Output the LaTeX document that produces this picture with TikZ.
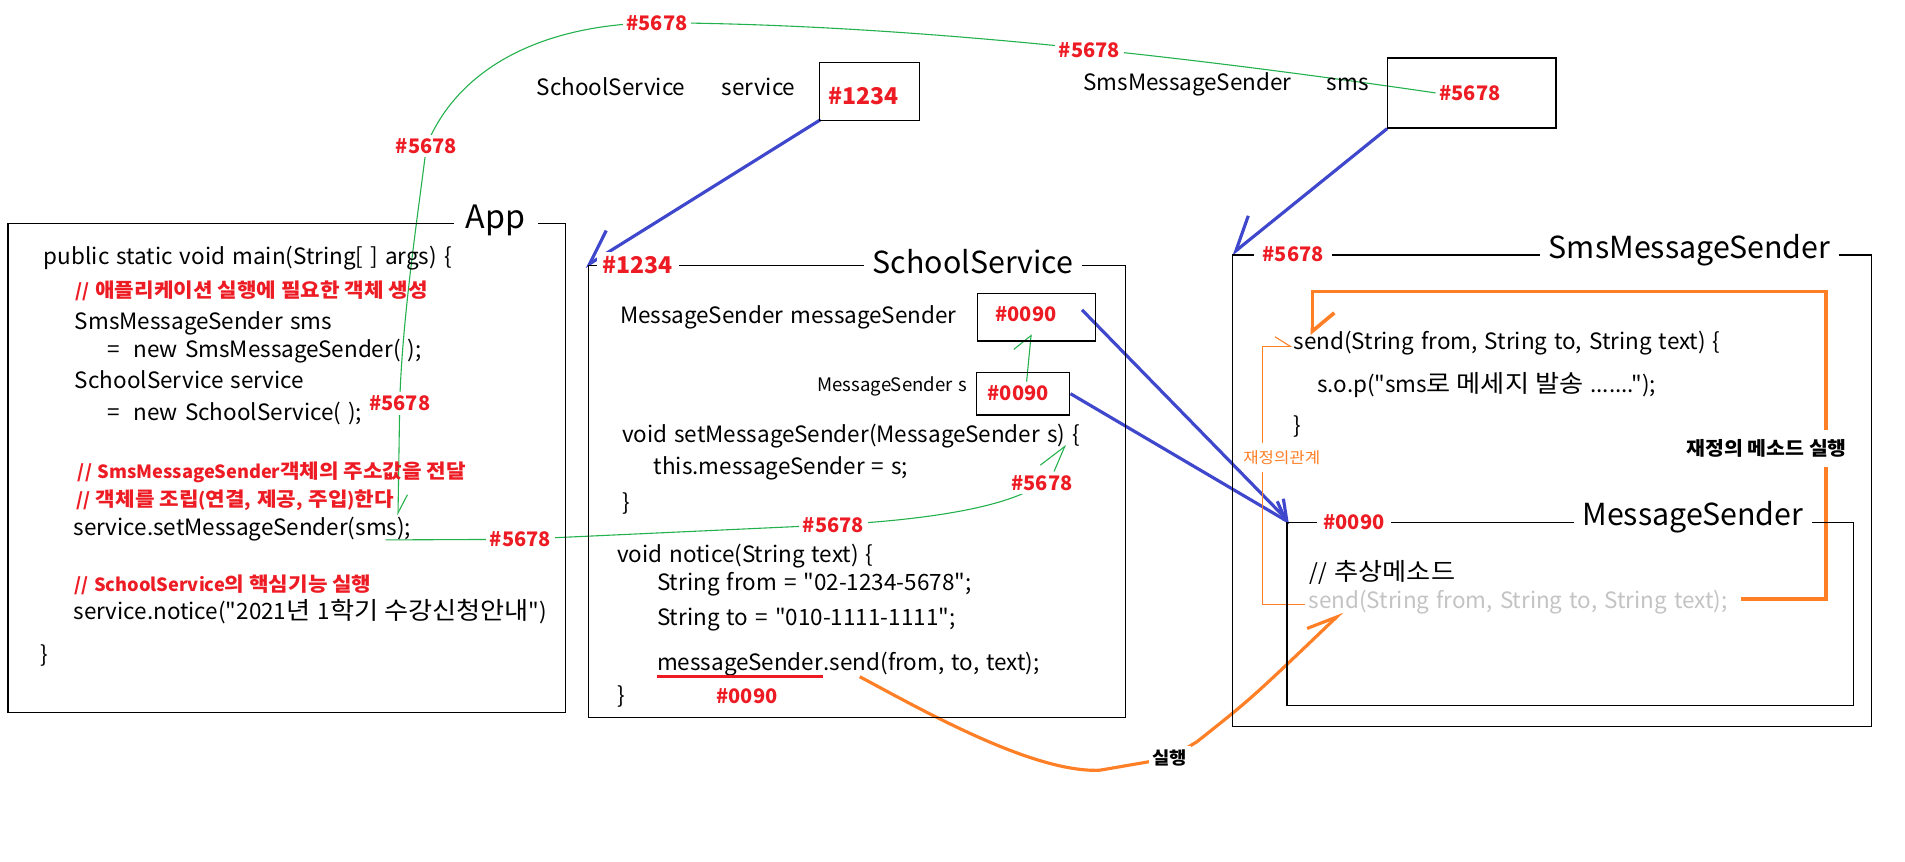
\documentclass[tikz,border=0pt]{standalone}
\usepackage{fontspec}
\setmainfont{Noto Sans CJK KR}[Ligatures=TeXOff,WordSpace=1.4]
\newfontfamily\krfont{Noto Sans CJK KR}[Scale=1.08,FakeStretch=1.08,Ligatures=TeXOff]
\newcommand{\kr}[1]{{\krfont #1}}
\usepackage{tikz}
\usetikzlibrary{arrows.meta,backgrounds}
\definecolor{addrred}{HTML}{ED1C24}
\definecolor{refblue}{HTML}{3F48CC}
\definecolor{linkgreen}{HTML}{22B14C}
\definecolor{callorange}{HTML}{FF7F27}
\definecolor{ghost}{HTML}{C3C3C3}

\begin{document}
\begin{tikzpicture}[x=1pt,y=-1pt,
  code/.style={anchor=west,inner sep=0pt,font=\fontsize{18.5}{22}\selectfont,text height=14pt,text depth=2pt},
  note/.style={anchor=west,inner sep=0pt,text=addrred,font=\fontsize{15}{18}\selectfont\bfseries,text height=11.5pt,text depth=1.5pt},
  addr/.style={text=addrred,fill=white,inner sep=3pt,font=\fontsize{16.5}{20}\selectfont\bfseries},
  bigaddr/.style={addr,font=\fontsize{19}{22}\selectfont\bfseries},
  title/.style={fill=white,inner xsep=7pt,inner ysep=1pt,font=\fontsize{25}{30}\selectfont},
  objbox/.style={draw,line width=1.1pt,anchor=north west,inner sep=0pt},
  ref/.style={refblue,line width=2.6pt},
  link/.style={linkgreen,line width=0.9pt},
  call/.style={callorange,line width=2.6pt}]

  \useasboundingbox (0,0) rectangle (1568,709);

  % objects
  \node[objbox,minimum width=459pt,minimum height=402.5pt] (app) at (6,183.5) {};
  \node[objbox,minimum width=442pt,minimum height=372pt] (ss) at (484,218) {};
  \node[objbox,minimum width=526.3pt,minimum height=388.2pt] (sms) at (1013.7,209.3) {};
  \node[objbox,minimum width=466pt,minimum height=150.8pt] (ms) at (1058.8,429.4) {};
  \node[objbox,minimum width=82.5pt,minimum height=48pt] (svcvar) at (673.8,50.8) {};
  \node[objbox,minimum width=138.4pt,minimum height=57.6pt] (smsvar) at (1141.7,47.2) {};
  \node[objbox,minimum width=97pt,minimum height=39pt] (fieldbox) at (804,241) {};
  \node[objbox,minimum width=77pt,minimum height=35pt] (parambox) at (803,306) {};

  \node[title,inner xsep=10pt,font=\fontsize{26.5}{30}\selectfont] (apptitle) at (408,181) {App};
  \node[title] (sstitle) at (801,215.5) {SchoolService};
  \node[title] (smstitle) at (1390.6,205.8) {SmsMessageSender};
  \node[title] (mstitle) at (1393.3,425.3) {MessageSender};
  \node[bigaddr,inner xsep=5pt] (ssaddr) at (525,218) {\#1234};
  \node[addr,inner xsep=7pt] (smsaddr) at (1064.5,209.3) {\#5678};
  \node[addr,inner xsep=5pt] (msaddr) at (1114.4,429.4) {\#0090};

  % variables in main
  \node[code,anchor=center] (svctype) at (503,72.7) {SchoolService};
  \node[code,anchor=center] (svcname) at (624.4,72.7) {service};
  \node[bigaddr] (svcval) at (710.6,79) {\#1234};
  \node[code,anchor=center] (smstype) at (977.4,68.6) {SmsMessageSender};
  \node[code,anchor=center] (smsname) at (1109.2,68.6) {sms};
  \node[addr] (smsval) at (1210,76.5) {\#5678};

  % App
  \foreach \x/\y/\s/\t [count=\i] in {
      36/211.5/code/{public static void main(String[ ] args) \{},
      62/239.5/note/{// \kr{애플리케이션 실행에 필요한 객체 생성}},
      61.5/265/code/{SmsMessageSender sms},
      88/288/code/{= \ new SmsMessageSender( );},
      61.5/314/code/{SchoolService service},
      88/340/code/{= \ new SchoolService( );},
      64/389/note/{// SmsMessageSender\kr{객체의 주소값을 전달}},
      62.4/411.5/note/{// \kr{객체를 조립}(\kr{연결}, \kr{제공}, \kr{주입})\kr{한다}},
      60.3/435/code/{service.setMessageSender(sms);},
      61/482/note/{// SchoolService\kr{의 핵심기능 실행}},
      60.3/503.5/code/{service.notice("2021\kr{년} 1\kr{학기 수강신청안내}")},
      33.5/539/code/{\}}} {
    \node[\s] (app\i) at (\x,\y) {\t};
  }

  % SchoolService
  \node[code] (field) at (510.3,260) {MessageSender messageSender};
  \node[addr,fill=none] (fieldval) at (844.5,259) {\#0090};
  \node[font=\fontsize{15.3}{18}\selectfont] (param) at (734.5,318) {MessageSender s};
  \node[addr,fill=none] (paramval) at (838,323.5) {\#0090};
  \foreach \x/\y/\t [count=\i] in {
      511.8/358/{void setMessageSender(MessageSender s) \{},
      538/384.4/{this.messageSender = s;},
      511.8/414/{\}},
      507.8/456.8/{void notice(String text) \{},
      540.7/480/{String from = "02-1234-5678";},
      540.7/508.6/{String to = "010-1111-1111";},
      507.8/573.4/{\}}} {
    \node[code] (ss\i) at (\x,\y) {\t};
  }
  \node[code] (callobj) at (540.7,546) {messageSender};
  \node[code,anchor=base west] (callrest) at (callobj.base east) {.send(from, to, text);};
  \node[addr,fill=none] (callval) at (614.8,573.4) {\#0090};
  \draw[addrred,line width=2.5pt] ([yshift=-5pt]callobj.base west) -- ([yshift=-5pt]callobj.base east);

  % SmsMessageSender / MessageSender
  \node[code] (impl) at (1064.5,282) {send(String from, String to, String text) \{};
  \node[code] (implbody) at (1084,317) {s.o.p("sms\kr{로 메세지 발송} .......");};
  \node[code] (implend) at (1064.5,351) {\}};
  \node[code] (abscmt) at (1078,471.8) {// \kr{추상메소드}};
  \node[code,text=ghost] (gsend) at (1077,495.2) {send(String from, String to, String text);};
  \node[text=callorange,fill=white,inner xsep=1pt,inner ysep=6pt,font=\fontsize{11.8}{14}\selectfont] (ovrrel) at (1055,376.4) {\kr{재정의관계}};
  \node[fill=white,inner xsep=2pt,inner ysep=8pt,font=\fontsize{14.5}{17}\selectfont\bfseries] (ovrrun) at (1454,369) {\kr{재정의 메소드 실행}};
  \node[fill=white,inner sep=3pt,font=\fontsize{13.3}{16}\selectfont\bfseries] (run) at (963,624) {\kr{실행}};

  % address labels on the green line
  \node[addr] (g1) at (540.7,18.7) {\#5678};
  \node[addr] (g2) at (896.7,41.2) {\#5678};
  \node[addr] (g3) at (351,120) {\#5678};
  \node[addr] (g4) at (329,332) {\#5678};
  \node[addr] (g5) at (428.4,443.9) {\#5678};
  \node[addr] (g6) at (686,432) {\#5678};
  \node[addr] (g7) at (857.6,397.5) {\#5678};

  \coordinate (gend) at (327.6,424);
  \coordinate (gstart) at (317.4,444.4);
  \coordinate (stip) at (877,366);
  \coordinate (rloop) at (1503.2,240);
  \coordinate (gtip) at ([xshift=27.8pt,yshift=-8.2pt]gsend.west);

  \begin{pgfonlayer}{background}
    % references
    \draw[ref,-{Straight Barb[right,length=26pt,width=32pt]}] ([xshift=1.6pt,yshift=1.4pt]svcvar.south west) -- ([xshift=-2.5pt,yshift=-1.5pt]ss.north west);
    \draw[ref,-{Straight Barb[right,length=26pt,width=32pt]}] (smsvar.south west) -- (sms.north west);
    \draw[ref,-{Straight Barb[left,length=14pt,width=20pt]}] ([xshift=-11.5pt,yshift=6pt]fieldbox.east) -- ([xshift=3pt,yshift=-1pt]ms.north west);
    \draw[ref,-{Straight Barb[left,length=14pt,width=20pt]}] (parambox.east) -- ([xshift=3pt,yshift=-1pt]ms.north west);
    % passing #5678
    \draw[link,-{Straight Barb[left,length=15pt,width=15pt]}] (smsval.west) .. controls (1000,50) and (760,20) .. (g1.center)
      .. controls (440,20) and (375,60) .. (g3.center) .. controls (345,170) and (331,260) .. (g4.center) -- (gend);
    \draw[link] (gstart) -- (g5.center) -- (g6.center) .. controls (760,428) and (830,418) .. (g7.center);
    \draw[link,-{Straight Barb[left,length=22pt,width=25pt]}] ([xshift=10pt]g7.north) -- (stip);
    \draw[link,-{Straight Barb[left,length=12.7pt,width=26pt]}] ([xshift=7pt]paramval.north) -- ([xshift=-4.3pt,yshift=6pt]fieldbox.south);
    % call and override
    \draw[call] ([xshift=30pt,yshift=-5pt]callrest.base west) .. controls (760,585) and (850,636) .. (905,634) -- (run.center);
    \draw[call,-{Straight Barb[left,length=24pt,width=20pt]}] (run.center) -- (985.2,610.5) .. controls (1030,575) .. (gtip);
    \draw[callorange,line width=3pt,-{Straight Barb[left,length=15pt,width=36pt]}] ([xshift=10.7pt,yshift=2pt]gsend.east) -| (rloop) -| ([xshift=15.8pt,yshift=6.3pt]impl.west);
    \draw[callorange,line width=0.9pt,-{Straight Barb[left,length=12.5pt,width=15.6pt]}] ([xshift=-3pt,yshift=-2pt]gsend.west) -| ([xshift=-25.5pt,yshift=-3pt]impl.west) -- ([xshift=-1pt,yshift=-3pt]impl.west);
  \end{pgfonlayer}
\end{tikzpicture}
\end{document}
